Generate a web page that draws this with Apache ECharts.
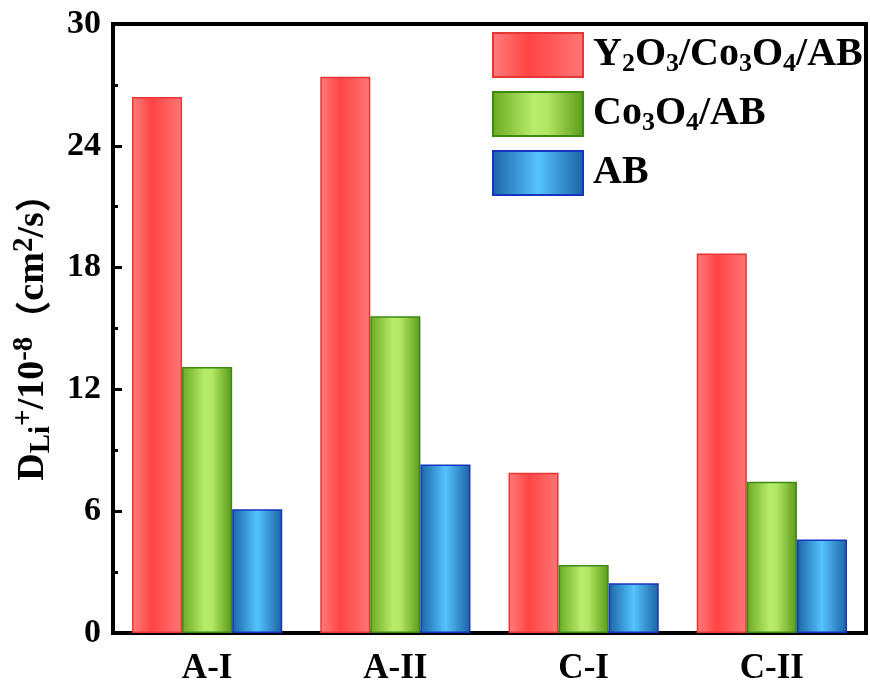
<!DOCTYPE html>
<html>
<head>
<meta charset="utf-8">
<script src="https://cdn.jsdelivr.net/npm/echarts@6/dist/echarts.min.js"></script>
<style>html,body{margin:0;padding:0;background:#fff;}#c{width:870px;height:686px;}</style>
</head>
<body>
<div id="c"></div>
<script>
const categories = ['A-I', 'A-II', 'C-I', 'C-II'];
const seriesNames = ['Y2O3/Co3O4/AB', 'Co3O4/AB', 'AB'];
const y2o3Values = [26.4, 27.4, 7.9, 18.7];
const co3o4Values = [13.1, 15.6, 3.35, 7.45];
const abValues = [6.1, 8.3, 2.45, 4.6];
const yTickMin = 0, yTickMax = 30, yTickStep = 6;

const serif = '"Liberation Serif","Times New Roman",serif';
const G = echarts.graphic.LinearGradient;
const redFill = new G(0, 0, 1, 0, [{offset: 0, color: '#ff7d7d'}, {offset: 0.4, color: '#ff4444'}, {offset: 1, color: '#ff7676'}]);
const greenFill = new G(0, 0, 1, 0, [{offset: 0, color: '#6aaa20'}, {offset: 0.45, color: '#b8ec6c'}, {offset: 0.6, color: '#b2e664'}, {offset: 1, color: '#5a9a18'}]);
const blueFill = new G(0, 0, 1, 0, [{offset: 0, color: '#1b64a4'}, {offset: 0.5, color: '#55c3ff'}, {offset: 1, color: '#1b62a2'}]);

const legendRich = {
  m: {fontSize: 40, fontWeight: 'bold', fontFamily: serif, color: '#000', lineHeight: 44},
  sub: {fontSize: 26, fontWeight: 'bold', fontFamily: serif, color: '#000', verticalAlign: 'bottom', lineHeight: 18}
};
function legendLabel(name) {
  if (name === seriesNames[0]) return '{m|Y}{sub|2}{m|O}{sub|3}{m|/Co}{sub|3}{m|O}{sub|4}{m|/AB}';
  if (name === seriesNames[1]) return '{m|Co}{sub|3}{m|O}{sub|4}{m|/AB}';
  return '{m|AB}';
}

const chart = echarts.init(document.getElementById('c'), null, {renderer: 'canvas'});
chart.setOption({
  animation: false,
  backgroundColor: '#fff',
  grid: {left: 113, right: 4, top: 24, bottom: 53, show: true, borderColor: '#000', borderWidth: 4, backgroundColor: 'transparent', outerBoundsMode: 'none', containLabel: false},
  legend: {
    orient: 'vertical', left: 487, top: 27, itemWidth: 90, itemHeight: 44, itemGap: 13,
    icon: 'rect',
    data: seriesNames,
    formatter: legendLabel,
    textStyle: {rich: legendRich, padding: [0, 0, 0, 5]}
  },
  xAxis: {
    type: 'category', data: categories,
    axisLine: {lineStyle: {color: '#000', width: 4}},
    axisTick: {show: false},
    axisLabel: {fontSize: 35, fontWeight: 'bold', fontFamily: serif, color: '#000', margin: 18}
  },
  yAxis: {
    type: 'value', min: yTickMin, max: yTickMax, interval: yTickStep,
    name: '{m|D}{sub|Li}{sup|+}{m|/10}{sup|-8}{cjk|（}{m|cm}{sup|2}{m|/s}{cjk|）}',
    nameLocation: 'middle', nameGap: 56,
    nameTextStyle: {
      rich: {
        m: {fontSize: 38, fontWeight: 'bold', fontFamily: serif, color: '#000', lineHeight: 46},
        sub: {fontSize: 29, fontWeight: 'bold', fontFamily: serif, color: '#000', verticalAlign: 'bottom', lineHeight: 28},
        sup: {fontSize: 29, fontWeight: 'bold', fontFamily: serif, color: '#000', verticalAlign: 'top', lineHeight: 28},
        cjk: {fontSize: 36, fontWeight: 'bold', fontFamily: '"Noto Sans CJK SC"', color: '#000', lineHeight: 46}
      }
    },
    axisLine: {show: true, lineStyle: {color: '#000', width: 4}},
    axisTick: {show: true, inside: true, length: 9, lineStyle: {color: '#000', width: 3}},
    minorTick: {show: true, splitNumber: 2, length: 5, lineStyle: {color: '#000', width: 3}},
    splitLine: {show: false},
    axisLabel: {fontSize: 34, fontWeight: 'bold', fontFamily: serif, color: '#000', margin: 12}
  },
  series: [
    {name: seriesNames[0], type: 'bar', data: y2o3Values, barWidth: '26.6%', barGap: '0%',
     itemStyle: {color: redFill, borderColor: '#e83535', borderWidth: 1.5}},
    {name: seriesNames[1], type: 'bar', data: co3o4Values, barWidth: '26.6%', barGap: '0%',
     itemStyle: {color: greenFill, borderColor: '#3c8a12', borderWidth: 1.5}},
    {name: seriesNames[2], type: 'bar', data: abValues, barWidth: '26.6%', barGap: '0%',
     itemStyle: {color: blueFill, borderColor: '#1535c0', borderWidth: 1.5}}
  ]
});
</script>
</body>
</html>
